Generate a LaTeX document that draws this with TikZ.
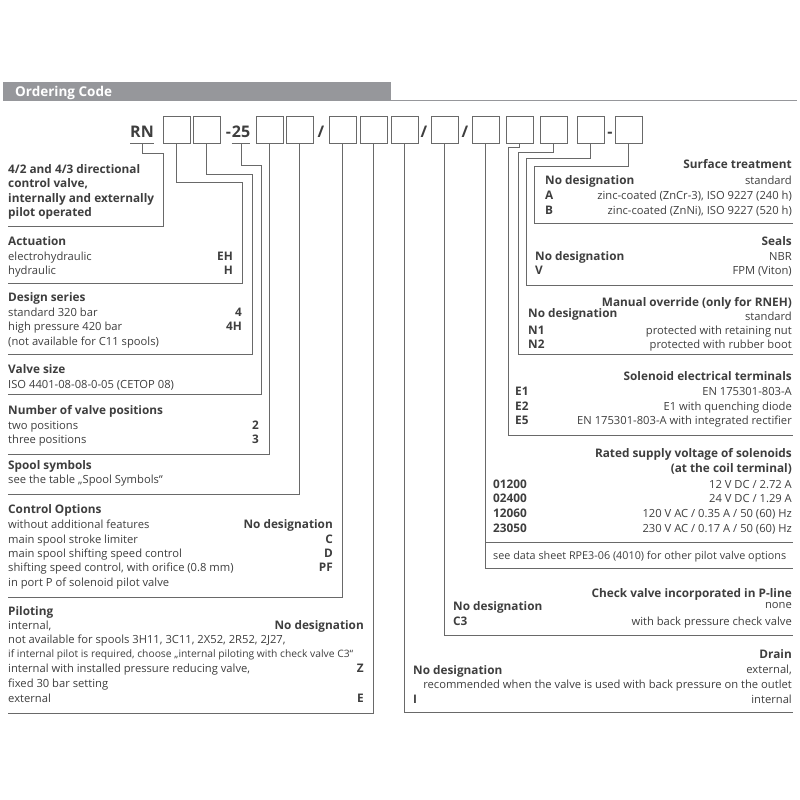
\documentclass[tikz,border=0pt]{standalone}
\usepackage{fontspec}
\setmainfont{Open Sans}
\usepackage{graphicx}
\usetikzlibrary{positioning}
\definecolor{ocgrey}{RGB}{150,151,155}
\definecolor{octext}{RGB}{62,62,62}
\definecolor{ocline}{RGB}{105,105,105}

\begin{document}
\begin{tikzpicture}[x=1pt,y=-1pt,font=\fontsize{11.2}{13}\selectfont,
    txt/.style={inner sep=0pt,text=octext,anchor=base west},
    txtr/.style={txt,anchor=base east},
    ttl/.style={txt,font=\fontsize{11.8}{13}\selectfont\bfseries},
    ttlr/.style={ttl,anchor=base east},
    codebox/.style={draw=ocline,line width=0.9pt,minimum width=27pt,minimum height=27pt,inner sep=0pt},
    codetxt/.style={inner sep=0pt,text=octext,anchor=base,font=\fontsize{16}{18}\selectfont\bfseries},
    conn/.style={draw=ocline,line width=0.9pt}]
  \useasboundingbox (0,0) rectangle (800,800);

  % header
  \fill[ocgrey] (3,82) rectangle (391,101);
  \draw[ocgrey,line width=1pt] (391,100.5) -- (797,100.5);
  \node[ttl,text=white,font=\fontsize{13.5}{15}\selectfont\bfseries] (head) at (15,96) {Ordering Code};

  % ordering code
  \node[codetxt] (rn) at (142,137) {RN};
  \node[codebox] (b1) at (176.5,129.5) {};
  \node[codebox] (b2) at (206.5,129.5) {};
  \node[codetxt] (n25) at (241,137) {25};
  \node[codetxt,left=0.5pt of n25.base west,anchor=base east] (dash1) {-};
  \node[codebox] (b3) at (269.5,129.5) {};
  \node[codebox] (b4) at (299.5,129.5) {};
  \node[codetxt] (sl1) at (321,137) {/};
  \node[codebox] (b5) at (342.5,129.5) {};
  \node[codebox] (b6) at (373.5,129.5) {};
  \node[codebox] (b7) at (404.5,129.5) {};
  \node[codetxt] (sl2) at (424,137) {/};
  \node[codebox] (b8) at (444.5,129.5) {};
  \node[codetxt] (sl3) at (465,137) {/};
  \node[codebox] (b9) at (485.5,129.5) {};
  \node[codebox] (b10) at (519.5,129.5) {};
  \node[codebox] (b11) at (553.5,129.5) {};
  \node[codebox] (b12) at (590.5,129.5) {};
  \node[codetxt] (dash2) at (610,137) {-};
  \node[codebox] (b13) at (628.5,129.5) {};
  \draw[conn] (rn.west |- b1.south) -- (rn.east |- b1.south);
  \draw[conn] (n25.west |- b1.south) -- (n25.east |- b1.south);

  % section corners
  \coordinate (lft) at (8,0);
  \coordinate (rgt) at (793,0);
  \coordinate (s1) at (163,226);
  \coordinate (s2) at (242,283);
  \coordinate (s3) at (252,354);
  \coordinate (s4) at (261,394);
  \coordinate (s5) at (269.5,454);
  \coordinate (s6) at (299.5,494);
  \coordinate (s7) at (342.5,597);
  \coordinate (s8) at (373.5,713);
  \coordinate (r1) at (534,223);
  \coordinate (r2) at (526,285);
  \coordinate (r3) at (518,354);
  \coordinate (r4) at (508,435);
  \coordinate (r5) at (485.5,568);
  \coordinate (r6) at (444.5,635);
  \coordinate (r7) at (404.5,712);

  % connectors, left side
  \draw[conn] (rn.south |- b1.south) -- ++(0,10) -| (s1) -- (lft |- s1);
  \draw[conn] (b1.south) -- ++(0,39) -| (s2) -- (lft |- s2);
  \draw[conn] (b2.south) -- ++(0,31) -| (s3) -- (lft |- s3);
  \draw[conn] (n25.south |- b1.south) -- ++(0,22) -| (s4) -- (lft |- s4);
  \draw[conn] (b3.south) -- (s5) -- (lft |- s5);
  \draw[conn] (b4.south) -- (s6) -- (lft |- s6);
  \draw[conn] (b5.south) -- (s7) -- (lft |- s7);
  \draw[conn] (b6.south) -- (s8) -- (lft |- s8);
  % connectors, right side
  \draw[conn] (b7.south) -- (r7) -- (rgt |- r7);
  \draw[conn] (b8.south) -- (r6) -- (rgt |- r6);
  \draw[conn] (b9.south) -- (r5) -- (rgt |- r5);
  \draw[conn] (b10.south) -- ++(0,4) -| (r4) -- (rgt |- r4);
  \draw[conn] (b11.south) -- ++(0,9) -| (r3) -- (rgt |- r3);
  \draw[conn] (b12.south) -- ++(0,15) -| (r2) -- (rgt |- r2);
  \draw[conn] (b13.south) -- ++(0,23) -| (r1) -- (rgt |- r1);
  \draw[conn] (r5 |- 0,542) -- (rgt |- 0,542);

  % valve type
  \node[ttl] (typ1) at (8,173) {4/2 and 4/3 directional};
  \node[ttl] (typ2) at (8,187.5) {control valve,};
  \node[ttl] (typ3) at (8,202) {internally and externally};
  \node[ttl] (typ4) at (8,216.5) {pilot operated};

  % actuation
  \node[ttl] (act) at (8,245) {Actuation};
  \node[txt] (act1) at (8,260) {electrohydraulic};
  \node[ttlr] (act1c) at (233,260) {EH};
  \node[txt] (act2) at (8,274) {hydraulic};
  \node[ttlr] (act2c) at (233,274) {H};

  % design series
  \node[ttl] (des) at (8,301.5) {Design series};
  \node[txt] (des1) at (8,316) {standard 320 bar};
  \node[ttlr] (des1c) at (242,316) {4};
  \node[txt] (des2) at (8,330.5) {high pressure 420 bar};
  \node[ttlr] (des2c) at (242,330.5) {4H};
  \node[txt] (des3) at (8,345) {(not available for C11 spools)};

  % valve size
  \node[ttl] (siz) at (8,373.5) {Valve size};
  \node[txt] (siz1) at (8,388) {ISO 4401-08-08-0-05 (CETOP 08)};

  % valve positions
  \node[ttl] (pos) at (8,414) {Number of valve positions};
  \node[txt] (pos1) at (8,429) {two positions};
  \node[ttlr] (pos1c) at (259,429) {2};
  \node[txt] (pos2) at (8,443) {three positions};
  \node[ttlr] (pos2c) at (259,443) {3};

  % spool symbols
  \node[ttl] (spl) at (8,469) {Spool symbols};
  \node[txt] (spl1) at (8,483) {see the table „Spool Symbols“};

  % control options
  \node[ttl] (ctl) at (8,513) {Control Options};
  \node[txt] (ctl1) at (8,528) {without additional features};
  \node[ttlr] (ctl1c) at (333,528) {No designation};
  \node[txt] (ctl2) at (8,543) {main spool stroke limiter};
  \node[ttlr] (ctl2c) at (333,543) {C};
  \node[txt] (ctl3) at (8,557) {main spool shifting speed control};
  \node[ttlr] (ctl3c) at (333,557) {D};
  \node[txt] (ctl4) at (8,571.5) {shifting speed control, with orifice (0.8 mm)};
  \node[ttlr] (ctl4c) at (333,571.5) {PF};
  \node[txt] (ctl5) at (8,586) {in port P of solenoid pilot valve};

  % piloting
  \node[ttl] (pil) at (8,615) {Piloting};
  \node[txt] (pil1) at (8,629) {internal,};
  \node[ttlr] (pil1c) at (364,629) {No designation};
  \node[txt] (pil2) at (8,643) {not available for spools 3H11, 3C11, 2X52, 2R52, 2J27,};
  \node[txt,font=\fontsize{10.2}{12}\selectfont] (pil3) at (8,657.5)
    {\resizebox{345pt}{\height}{if internal pilot is required, choose „internal piloting with check valve C3“}};
  \node[txt] (pil4) at (8,672) {internal with installed pressure reducing valve,};
  \node[ttlr] (pil4c) at (364,672) {Z};
  \node[txt] (pil5) at (8,687) {fixed 30 bar setting};
  \node[txt] (pil6) at (8,702) {external};
  \node[ttlr] (pil6c) at (364,702) {E};

  % surface treatment
  \node[ttlr] (sur) at (792,168) {Surface treatment};
  \node[ttl] (sur1c) at (545,184) {No designation};
  \node[txtr] (sur1) at (792,184) {standard};
  \node[ttl] (sur2c) at (545,199) {A};
  \node[txtr] (sur2) at (792,199) {zinc-coated (ZnCr-3), ISO 9227 (240 h)};
  \node[ttl] (sur3c) at (545,214) {B};
  \node[txtr] (sur3) at (792,214) {zinc-coated (ZnNi), ISO 9227 (520 h)};

  % seals
  \node[ttlr] (sea) at (792,245) {Seals};
  \node[ttl] (sea1c) at (535,260) {No designation};
  \node[txtr] (sea1) at (792,260) {NBR};
  \node[ttl] (sea2c) at (535,274) {V};
  \node[txtr] (sea2) at (792,274) {FPM (Viton)};

  % manual override
  \node[ttlr] (man) at (792,306) {Manual override (only for RNEH)};
  \node[ttl] (man1c) at (528,317) {No designation};
  \node[txtr] (man1) at (792,320.5) {standard};
  \node[ttl] (man2c) at (528,334) {N1};
  \node[txtr] (man2) at (792,334) {protected with retaining nut};
  \node[ttl] (man3c) at (528,348) {N2};
  \node[txtr] (man3) at (792,348) {protected with rubber boot};

  % solenoid terminals
  \node[ttlr] (sol) at (792,380) {Solenoid electrical terminals};
  \node[ttl] (sol1c) at (515,395) {E1};
  \node[txtr] (sol1) at (792,395) {EN 175301-803-A};
  \node[ttl] (sol2c) at (515,410) {E2};
  \node[txtr] (sol2) at (792,410) {E1 with quenching diode};
  \node[ttl] (sol3c) at (515,424) {E5};
  \node[txtr] (sol3) at (792,424) {EN 175301-803-A with integrated rectifier};

  % supply voltage
  \node[ttlr] (vol) at (792,457) {Rated supply voltage of solenoids};
  \node[ttlr] (vol0) at (792,472) {(at the coil terminal)};
  \node[ttl] (vol1c) at (493,488) {01200};
  \node[txtr] (vol1) at (792,488) {12 V DC / 2.72 A};
  \node[ttl] (vol2c) at (493,502.5) {02400};
  \node[txtr] (vol2) at (792,502.5) {24 V DC / 1.29 A};
  \node[ttl] (vol3c) at (493,517) {12060};
  \node[txtr] (vol3) at (792,517) {120 V AC / 0.35 A / 50 (60) Hz};
  \node[ttl] (vol4c) at (493,532) {23050};
  \node[txtr] (vol4) at (792,532) {230 V AC / 0.17 A / 50 (60) Hz};
  \node[txt,font=\fontsize{10.8}{12}\selectfont] (volnote) at (493,559) {see data sheet RPE3-06 (4010) for other pilot valve options};

  % check valve
  \node[ttlr] (chk) at (792,597) {Check valve incorporated in P-line};
  \node[ttl] (chk1c) at (453,610) {No designation};
  \node[txtr] (chk1) at (792,608.5) {none};
  \node[ttl] (chk2c) at (453,625) {C3};
  \node[txtr] (chk2) at (792,625) {with back pressure check valve};

  % drain
  \node[ttlr] (drn) at (792,658.5) {Drain};
  \node[ttl] (drn1c) at (413,674) {No designation};
  \node[txtr] (drn1) at (792,673.5) {external,};
  \node[txtr] (drn2) at (792,688.5) {recommended when the valve is used with back pressure on the outlet};
  \node[ttl] (drn3c) at (413,703) {I};
  \node[txtr] (drn3) at (792,703) {internal};
\end{tikzpicture}
\end{document}
